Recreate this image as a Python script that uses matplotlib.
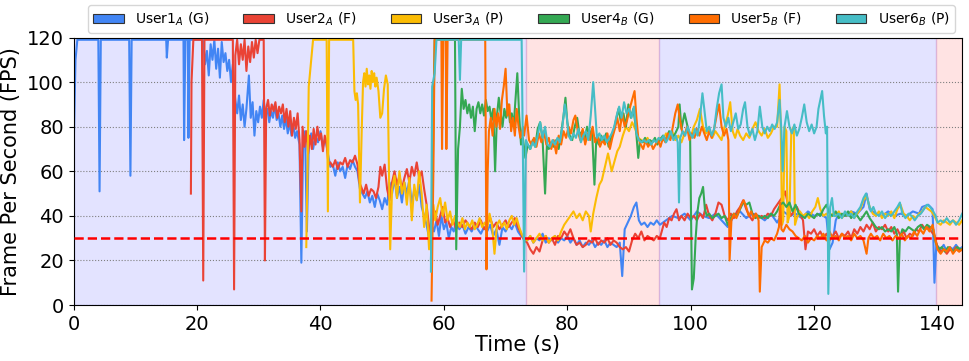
"""FPS per user over time"""
import matplotlib
matplotlib.use("Agg")
import matplotlib.pyplot as plt
from matplotlib.patches import Patch

# Labels / colours
labels = [r"User1$_A$ (G)", r"User2$_A$ (F)", r"User3$_A$ (P)",
          r"User4$_B$ (G)", r"User5$_B$ (F)", r"User6$_B$ (P)"]
colors = ["#4285F4", "#EA4335", "#FBBC04", "#34A853", "#FF6D01", "#46BDC6"]

# Background phases (start, end, colour)
phases = [(0, 73.3, "blue"), (73.3, 94.8, "red"), (94.8, 139.7, "blue"), (139.7, 144, "red")]
target_fps = 30

# (time s, fps)
user1 = [(0,70),(0.3,110),(0.6,119),(4.0,119),(4.2,51),(4.4,119),(9.0,119),(9.2,58),(9.4,119),(15.0,119),(15.1,111),(15.3,119),(17.8,119),(17.9,74),(18.1,119),(18.5,119),(18.6,75),(18.8,119),(21.0,119),(21.3,108),(21.6,114),(21.9,103),(22.2,117),(22.5,110),(22.8,119),(23.1,106),(23.4,115),(23.7,102),(24.0,118),(24.3,109),(24.6,113),(24.9,105),(25.2,110),(25.5,100),(25.8,108),(26.0,97),(26.2,92),(26.5,86),(26.8,94),(27.1,83),(27.4,90),(27.7,80),(28.0,88),(28.4,103),(28.7,84),(29.0,91),(29.3,76),(29.6,87),(29.9,82),(30.2,89),(30.5,84),(30.8,92),(31.1,85),(31.4,88),(31.7,82),(32.0,87),(32.3,84),(32.6,90),(32.9,83),(33.2,86),(33.5,80),(33.8,85),(34.1,79),(34.4,84),(34.7,77),(35.0,82),(35.3,76),(35.6,81),(35.9,75),(36.2,78),(36.6,72),(36.9,19),(37.2,74),(37.5,78),(37.8,33),(38.1,72),(38.5,77),(38.8,70),(39.2,76),(39.6,73),(40.0,78),(40.4,71),(40.8,75),(41.2,68),(41.6,62),(42.0,63),(42.4,58),(42.8,64),(43.2,60),(43.6,62),(44.0,57),(44.4,63),(44.8,61),(45.2,65),(45.6,62),(46.0,60),(46.4,52),(46.8,50),(47.2,48),(47.6,51),(48.0,46),(48.4,49),(48.8,44),(49.2,50),(49.6,47),(50.0,43),(50.4,48),(50.8,45),(51.2,55),(51.6,50),(52.0,57),(52.4,48),(52.8,53),(53.2,46),(53.6,55),(54.0,50),(54.4,56),(54.8,45),(55.2,52),(55.6,47),(56.0,54),(56.4,44),(56.8,40),(57.2,36),(57.6,30),(58.0,36),(58.4,33),(58.8,38),(59.2,31),(59.6,40),(60.0,34),(60.4,37),(60.8,30),(61.2,35),(61.6,33),(62.0,38),(62.5,34),(63.0,36),(63.5,32),(64.0,35),(64.5,33),(65.0,36),(65.5,34),(66.0,32),(66.5,35),(67.0,33),(67.5,36),(68.0,31),(68.5,34),(69.0,27),(69.5,35),(70.0,33),(70.5,36),(71.0,34),(71.5,37),(72.0,33),(72.5,31),(73.0,30),(73.5,29),(74.0,31),(74.5,28),(75.0,30),(75.5,29),(76.0,32),(76.5,28),(77.0,30),(77.5,29),(78.0,31),(78.5,28),(79.0,30),(79.5,29),(80.0,31),(80.5,28),(81.0,30),(81.5,27),(82.0,29),(82.5,26),(83.0,28),(83.5,27),(84.0,29),(84.5,26),(85.0,28),(85.5,27),(86.0,29),(86.5,26),(87.0,28),(87.5,27),(88.0,26),(88.5,28),(88.9,13),(89.3,34),(89.8,37),(90.3,40),(90.8,44),(91.2,46),(91.6,38),(92.0,36),(92.5,37),(93.0,35),(93.5,37),(94.0,36),(94.5,38),(95.0,36),(95.5,37),(96.0,38),(97,40),(98,39),(99,41),(100,38),(101,42),(102,40),(103,39),(104,41),(105,38),(106,35),(107,40),(108,42),(109,39),(110,41),(111,40),(112,38),(113,41),(114,37),(115,42),(116,40),(117,41),(118,39),(119,42),(120,40),(121,41),(122,39),(122.5,25),(123,28),(123.5,38),(124,41),(125,40),(126,42),(127,41),(128,44),(128.5,50),(129,43),(130,41),(131,40),(132,42),(133,40),(134,41),(135,40),(136,42),(137,41),(137.5,44),(138.5,45),(139.2,43),(139.5,10),(139.8,27),(140.5,25),(141,27),(141.5,24),(142,26),(142.5,25),(143,27),(143.5,25),(144,26)]

user2 = [(19.0,50),(19.1,100),(19.4,119),(20.8,119),(21.0,11),(21.2,119),(25.8,119),(26.0,7),(26.2,112),(26.5,119),(26.8,108),(27.1,117),(27.4,110),(27.7,119),(28.0,105),(28.3,116),(28.6,109),(28.9,118),(29.2,111),(29.5,119),(29.8,113),(30.1,119),(30.8,119),(31.0,20),(31.2,88),(31.5,92),(31.8,85),(32.1,90),(32.4,87),(32.7,91),(33.0,84),(33.3,89),(33.6,86),(33.9,90),(34.2,82),(34.5,88),(34.8,80),(35.1,87),(35.4,76),(35.7,84),(36.0,79),(36.3,86),(36.6,74),(36.9,42),(37.1,80),(37.4,71),(37.7,78),(38.0,68),(38.3,76),(38.6,70),(38.9,79),(39.2,72),(39.5,80),(39.8,74),(40.1,77),(40.4,69),(40.7,76),(41.0,72),(41.3,63),(41.6,64),(42.0,62),(42.4,65),(42.8,61),(43.2,64),(43.6,63),(44.0,66),(44.4,62),(44.8,65),(45.2,64),(45.6,67),(46.0,63),(46.3,55),(46.6,53),(47.0,50),(47.4,54),(47.8,49),(48.2,52),(48.6,51),(49.0,48),(49.4,53),(49.7,62),(50.0,58),(50.4,63),(50.8,52),(51.2,47),(51.6,55),(52.0,60),(52.4,54),(52.8,58),(53.2,52),(53.6,57),(54.0,61),(54.4,55),(54.8,62),(55.2,58),(55.6,64),(56.0,57),(56.4,60),(56.8,52),(57.2,45),(57.6,35),(57.8,28),(58.2,38),(58.6,42),(59.0,36),(59.4,40),(59.8,44),(60.2,37),(60.6,39),(61.0,35),(61.5,38),(62.0,34),(62.5,37),(63.0,35),(63.5,38),(64.0,36),(64.5,34),(65.0,37),(65.5,35),(66.0,38),(66.5,34),(67.0,36),(67.5,39),(68.0,35),(68.5,37),(69.0,34),(69.5,36),(70.0,38),(70.5,35),(71.0,37),(71.5,39),(72.0,35),(72.5,32),(73.0,29),(73.5,28),(74.0,25),(74.5,23),(75.0,26),(75.5,24),(76.0,29),(76.5,31),(77.0,28),(77.5,30),(78.0,27),(78.5,31),(79.0,30),(79.5,33),(80.0,31),(80.5,34),(81.0,30),(81.5,27),(82.0,28),(82.5,26),(83.0,27),(83.5,29),(84.0,28),(84.5,30),(85.0,27),(85.5,29),(86.0,28),(86.5,30),(87.0,27),(87.5,29),(88.0,28),(88.5,26),(89.0,25),(89.5,26),(90.0,24),(90.5,29),(91.0,32),(91.5,30),(92.0,33),(92.5,29),(93.0,31),(93.5,30),(94.0,29),(94.5,31),(95.0,30),(95.3,33),(95.7,37),(96.1,35),(96.5,39),(96.9,38),(97.3,41),(97.7,43),(98.1,38),(98.5,40),(99.0,38),(99.5,41),(100.0,39),(100.5,40),(101.0,38),(101.5,41),(102.0,39),(102.5,45),(103.0,40),(103.5,38),(104.0,41),(104.5,46),(105.0,45),(105.5,40),(106.0,38),(106.5,41),(107.0,39),(107.5,42),(108.0,44),(108.5,47),(109.0,43),(109.5,40),(110.0,38),(110.5,41),(111.0,39),(111.5,40),(112.0,39),(112.5,41),(113.0,40),(113.5,43),(114.0,45),(114.5,47),(115.0,49),(115.3,51),(115.7,46),(116.2,40),(116.7,42),(117.2,44),(117.7,41),(118.2,38),(118.6,25),(119.0,33),(119.5,32),(120.0,34),(120.5,31),(121,33),(121.5,30),(122,32),(122.5,29),(123,31),(123.5,33),(124,30),(124.5,32),(125,31),(125.5,33),(126,30),(126.5,34),(127,32),(127.5,35),(128,33),(128.5,36),(129,34),(129.5,37),(130,33),(130.5,35),(131,34),(131.5,36),(132,33),(132.5,35),(133,32),(133.5,34),(134,31),(134.5,33),(135,30),(135.5,32),(136,31),(136.5,34),(137,33),(137.5,36),(138,34),(138.5,35),(139,33),(139.5,31),(140,26),(140.5,24),(141,25),(141.5,23),(142,25),(142.5,24),(143,26),(143.5,24),(144,25)]

user3 = [(37.7,26),(37.9,60),(38.1,98),(38.8,119),(41.0,119),(41.2,42),(41.4,119),(45.3,119),(45.5,96),(45.7,92),(45.9,95),(46.1,90),(46.4,46),(46.7,80),(46.9,100),(47.1,104),(47.3,98),(47.5,106),(47.7,99),(47.9,103),(48.1,97),(48.3,105),(48.5,100),(48.7,104),(48.9,98),(49.1,102),(49.4,96),(49.7,84),(50.0,86),(50.3,97),(50.6,103),(50.9,99),(51.1,60),(51.3,25),(51.6,52),(52.0,58),(52.4,48),(52.8,60),(53.2,50),(53.6,55),(54.0,45),(54.4,57),(54.8,38),(55.2,54),(55.6,47),(56.0,60),(56.4,50),(56.8,35),(57.2,45),(57.6,25),(58.0,40),(58.3,45),(58.6,38),(59.0,44),(59.4,48),(59.8,40),(60.2,46),(60.6,38),(61.0,42),(61.4,36),(61.8,40),(62.2,37),(62.6,35),(63.0,39),(63.4,34),(63.8,37),(64.2,35),(64.6,38),(65.0,34),(65.4,36),(65.8,39),(66.2,35),(66.6,37),(67.0,34),(67.4,41),(67.8,36),(68.2,23),(68.6,36),(69.0,38),(69.4,35),(69.8,37),(70.2,34),(70.6,38),(71.0,40),(71.4,36),(71.8,39),(72.2,35),(72.6,32),(73.0,30),(73.5,29),(74.0,31),(74.5,28),(75.0,30),(75.5,32),(76.0,29),(76.5,31),(77.0,28),(77.5,30),(78.0,31),(78.5,29),(79.0,33),(79.5,36),(80.0,38),(80.5,40),(81.0,42),(81.5,39),(82.0,41),(82.5,38),(83.0,42),(83.5,40),(83.8,33),(84.2,41),(84.7,48),(85.2,54),(85.6,56),(86.1,62),(86.6,68),(87.2,60),(87.7,65),(88.1,69),(88.5,71),(89.0,76),(89.5,80),(90.0,78),(90.5,82),(91.0,79),(91.5,75),(92.0,74),(92.5,73),(93.0,75),(93.5,72),(94.0,74),(94.5,73),(95.0,75),(95.5,74),(96.0,77),(96.5,75),(97,78),(97.5,74),(98,76),(98.5,73),(99,77),(99.5,79),(100,75),(100.5,80),(101,83),(101.5,88),(102,80),(102.5,77),(103,79),(103.5,75),(104,78),(104.5,76),(105,74),(105.5,80),(106,85),(106.4,91),(106.8,78),(107.2,75),(107.6,79),(108,76),(108.5,74),(109,77),(109.5,75),(110,79),(110.5,82),(111,78),(111.5,76),(112,79),(112.5,75),(113,77),(113.5,80),(114.0,80),(114.4,99),(114.6,78),(114.8,36),(115.0,38),(115.2,80),(115.5,78),(115.7,37),(116.0,40),(116.3,78),(116.7,80),(116.9,36),(117.2,39),(117.7,42),(118.2,40),(118.7,41),(119.2,39),(119.7,42),(120.2,44),(120.6,48),(121.0,43),(121.5,40),(122,41),(122.5,39),(123,41),(123.5,40),(124,42),(124.5,39),(125,41),(125.5,40),(126,42),(126.5,39),(127,41),(127.5,43),(128,47),(128.5,49),(129,44),(129.5,41),(130,40),(130.5,42),(131,39),(131.5,41),(132,40),(132.5,42),(133,39),(133.5,43),(134,45),(134.5,41),(135,40),(135.5,38),(136,40),(136.5,39),(137,41),(137.5,42),(138,44),(138.5,43),(139,42),(139.5,40),(140,37),(140.5,36),(141,38),(141.5,37),(142,36),(142.5,38),(143,37),(143.5,36),(144,38)]

user4 = [(57.9,20),(58.2,60),(58.5,119),(61.8,119),(62.0,25),(62.3,70),(62.6,80),(62.9,97),(63.2,88),(63.5,92),(63.8,86),(64.1,90),(64.4,84),(64.7,89),(65.0,78),(65.3,88),(65.6,91),(65.9,86),(66.2,90),(66.5,85),(66.8,92),(67.1,87),(67.4,89),(67.7,83),(68.0,88),(68.3,60),(68.6,85),(68.9,93),(69.2,86),(69.5,80),(69.8,88),(70.1,84),(70.4,90),(70.7,82),(71.0,86),(71.3,80),(71.6,92),(71.9,104),(72.2,85),(72.5,72),(72.8,75),(73.2,66),(73.6,72),(74.0,70),(74.4,74),(74.8,71),(75.2,79),(75.6,82),(76.0,74),(76.4,50),(76.7,72),(77.0,70),(77.4,73),(77.8,71),(78.2,74),(78.6,70),(79.0,77),(79.4,85),(79.7,93),(80.0,82),(80.4,76),(80.8,74),(81.2,80),(81.6,84),(82.0,76),(82.4,78),(82.8,74),(83.2,80),(83.6,76),(84.0,79),(84.4,54),(84.7,75),(85.1,72),(85.5,76),(85.9,73),(86.3,77),(86.7,71),(87.1,75),(87.5,78),(87.9,83),(88.3,88),(88.7,82),(89.1,86),(89.5,80),(89.9,90),(90.3,84),(90.7,88),(91.1,80),(91.5,66),(91.8,74),(92.2,73),(92.6,75),(93.0,72),(93.4,74),(93.8,73),(94.2,75),(94.6,72),(95.0,74),(95.5,76),(96.0,74),(96.5,78),(97.0,75),(97.5,77),(98.0,80),(98.2,90),(98.5,79),(99.0,86),(99.5,80),(99.9,76),(100.2,7),(100.5,12),(100.8,30),(101.1,42),(101.4,48),(101.7,50),(102.0,53),(102.3,43),(102.6,40),(103,41),(103.5,39),(104,40),(104.5,41),(105,39),(105.5,40),(106,36),(106.5,39),(107,41),(107.5,40),(108,43),(108.5,46),(109,45),(109.5,46),(110,41),(110.5,39),(111,40),(111.5,39),(112,40),(112.5,39),(113,41),(113.5,40),(114,42),(114.5,45),(115,46),(115.5,44),(116,46),(116.5,42),(117,45),(117.5,41),(118,40),(118.5,39),(119,41),(119.5,40),(120,39),(120.5,41),(121,40),(121.5,43),(122,45),(122.5,41),(123,40),(123.5,42),(124,39),(124.5,41),(125,40),(125.5,42),(126,39),(126.5,41),(127,40),(127.5,38),(128,40),(128.5,42),(129,39),(129.5,37),(130,35),(130.5,34),(131,35),(131.5,33),(132,34),(132.5,33),(133,35),(133.4,32),(133.6,6),(133.9,30),(134.3,34),(134.8,33),(135.3,35),(135.8,34),(136.3,33),(136.8,35),(137.3,36),(137.8,34),(138.3,36),(138.8,35),(139.3,34),(139.7,28),(140.2,25),(140.7,26),(141.2,24),(141.7,26),(142.2,25),(142.7,24),(143.2,26),(143.7,25),(144,25)]

user5 = [(58.0,2),(58.3,60),(58.5,119),(59.6,119),(59.7,70),(59.9,119),(60.3,119),(60.4,70),(60.6,119),(66.7,119),(66.9,16),(67.1,60),(67.3,78),(67.6,84),(67.9,76),(68.2,88),(68.5,80),(68.8,86),(69.1,79),(69.4,92),(69.7,98),(70.0,106),(70.3,85),(70.6,90),(70.9,78),(71.2,84),(71.5,76),(71.8,88),(72.1,80),(72.4,75),(72.8,80),(73.0,76),(73.4,85),(73.8,74),(74.2,72),(74.6,75),(75.0,71),(75.4,77),(75.8,73),(76.2,78),(76.6,72),(77.0,75),(77.4,70),(77.8,74),(78.2,68),(78.6,76),(79.0,72),(79.4,78),(79.8,75),(80.2,80),(80.6,77),(81.0,83),(81.3,85),(81.7,78),(82.1,74),(82.5,79),(82.9,72),(83.3,77),(83.7,74),(84.1,80),(84.5,73),(84.9,76),(85.3,71),(85.7,74),(86.1,72),(86.5,77),(86.9,70),(87.3,75),(87.7,79),(88.1,84),(88.5,78),(88.9,86),(89.3,80),(89.7,83),(90.1,88),(90.5,92),(90.9,96),(91.2,84),(91.5,75),(91.9,72),(92.3,70),(92.7,74),(93.1,71),(93.5,73),(93.9,70),(94.3,72),(94.7,74),(95.1,71),(95.5,75),(95.9,73),(96.3,77),(96.7,74),(97.1,80),(97.5,86),(97.9,90),(98.2,84),(98.6,78),(99.0,76),(99.4,80),(99.8,74),(100.2,77),(100.6,75),(101.0,79),(101.4,76),(101.8,80),(102.2,77),(102.6,74),(103.0,78),(103.4,75),(103.8,79),(104.2,85),(104.6,90),(105.0,80),(105.4,76),(105.8,79),(106.1,74),(106.3,20),(106.6,38),(107.0,41),(107.4,39),(107.8,42),(108.2,45),(108.6,47),(109.0,44),(109.4,40),(109.8,42),(110.2,39),(110.6,41),(111.0,38),(111.2,6),(111.5,26),(112,29),(112.5,28),(113,30),(113.5,29),(114,32),(114.3,35),(114.5,46),(114.7,34),(115,33),(115.5,36),(116,34),(116.5,33),(117,31),(117.5,30),(118,29),(118.5,31),(119,28),(119.5,30),(120,29),(120.5,31),(121,30),(121.5,32),(122,29),(122.5,33),(123,30),(123.5,31),(124,29),(124.5,32),(125,30),(125.5,31),(126,29),(126.5,32),(127,30),(127.5,31),(128,29),(128.5,23),(128.8,30),(129.2,32),(129.7,30),(130.2,31),(130.7,29),(131.2,32),(131.7,30),(132.2,31),(132.7,29),(133.2,31),(133.7,30),(134.2,32),(134.7,29),(135.2,31),(135.7,30),(136.2,33),(136.7,31),(137.2,34),(137.7,32),(138.2,35),(138.7,33),(139.2,36),(139.6,30),(140.0,25),(140.5,23),(141,25),(141.5,24),(142,26),(142.5,23),(143,25),(143.5,24),(144,25)]

user6 = [(57.9,15),(58.1,98),(58.5,104),(58.8,119),(62.4,119),(62.6,101),(62.8,119),(72.6,119),(72.8,70),(73.0,15),(73.3,74),(73.6,72),(74.0,70),(74.4,73),(74.8,71),(75.2,76),(75.6,82),(76.0,75),(76.4,80),(76.8,72),(77.2,71),(77.6,74),(78.0,72),(78.4,75),(78.8,73),(79.2,80),(79.6,90),(79.9,85),(80.2,76),(80.6,74),(81.0,77),(81.4,75),(81.8,79),(82.2,73),(82.6,76),(83.0,78),(83.4,74),(83.8,85),(84.2,100),(84.5,88),(84.8,75),(85.2,77),(85.6,74),(86.0,76),(86.4,73),(86.8,75),(87.2,77),(87.6,80),(88.0,85),(88.4,89),(88.8,84),(89.2,91),(89.6,86),(90.0,88),(90.4,84),(90.8,89),(91.2,77),(91.6,74),(92.0,73),(92.4,74),(92.8,73),(93.2,74),(93.6,72),(94.0,74),(94.4,73),(94.8,75),(95.2,74),(95.6,76),(96.0,73),(96.4,75),(96.8,78),(97.2,74),(97.6,76),(97.9,73),(98.1,46),(98.3,75),(98.7,78),(99.1,76),(99.5,80),(99.9,77),(100.3,75),(100.7,79),(101.1,76),(101.5,84),(101.9,95),(102.2,88),(102.6,78),(103.0,80),(103.4,76),(103.8,79),(104.2,88),(104.6,95),(105.0,99),(105.3,84),(105.7,80),(106.1,84),(106.5,78),(106.9,82),(107.3,86),(107.7,79),(108.1,81),(108.5,88),(108.8,91),(109.2,80),(109.6,76),(110.0,79),(110.4,74),(110.8,78),(111.2,89),(111.6,80),(112.0,77),(112.4,80),(112.8,78),(113.2,81),(113.6,79),(114.0,82),(114.4,92),(114.7,78),(114.9,60),(115.2,80),(115.6,87),(116.0,80),(116.4,77),(116.8,81),(117.2,76),(117.6,79),(118.0,84),(118.4,90),(118.8,82),(119.2,78),(119.6,81),(120.0,77),(120.4,80),(120.7,88),(121.0,92),(121.3,96),(121.6,85),(121.9,77),(122.1,80),(122.3,5),(122.6,44),(122.9,48),(123.2,40),(123.5,40),(124,41),(124.5,39),(125,42),(125.5,40),(126,41),(126.5,39),(127,42),(127.5,44),(128,48),(128.4,50),(128.8,46),(129.2,42),(129.6,44),(130,41),(130.5,40),(131,42),(131.5,39),(132,41),(132.5,40),(133,42),(133.5,44),(133.9,46),(134.3,41),(134.8,39),(135.3,41),(135.8,40),(136.3,38),(136.8,40),(137.3,41),(137.8,43),(138.3,45),(138.8,44),(139.3,42),(139.7,40),(140.0,37),(140.5,38),(141,37),(141.5,39),(142,37),(142.5,38),(143,36),(143.5,38),(144,41)]

users = [user1, user2, user3, user4, user5, user6]


def main():
    fig, ax = plt.subplots(figsize=(9.69, 3.61), dpi=100)
    fig.subplots_adjust(left=0.076, right=0.993, bottom=0.155, top=0.896)

    for start, end, c in phases:
        ax.axvspan(start, end, color=c, alpha=0.11, zorder=0)

    for data, c in zip(users, colors):
        t = [p[0] for p in data]
        v = [p[1] for p in data]
        ax.plot(t, v, color=c, linewidth=1.5, zorder=2)

    ax.axhline(target_fps, color="red", linestyle="--", linewidth=1.8, zorder=3)

    ax.set_xlim(0, 144)
    ax.set_ylim(0, 120)
    ax.set_xticks(range(0, 141, 20))
    ax.set_yticks(range(0, 121, 20))
    ax.tick_params(labelsize=14)
    ax.yaxis.grid(True, linestyle=":", color="gray", linewidth=0.8)
    ax.set_axisbelow(True)
    ax.set_xlabel("Time (s)", fontsize=15, labelpad=1)
    ax.set_ylabel("Frame Per Second (FPS)", fontsize=15)

    handles = [Patch(facecolor=c, edgecolor="#333333", linewidth=0.8) for c in colors]
    ax.legend(handles, labels, loc="lower center", bbox_to_anchor=(0.504, 1.016), ncol=6,
              fontsize=10, frameon=True, handlelength=2.2, columnspacing=2.45, borderaxespad=0)

    fig.savefig("out.png", dpi=100)


if __name__ == "__main__":
    main()
